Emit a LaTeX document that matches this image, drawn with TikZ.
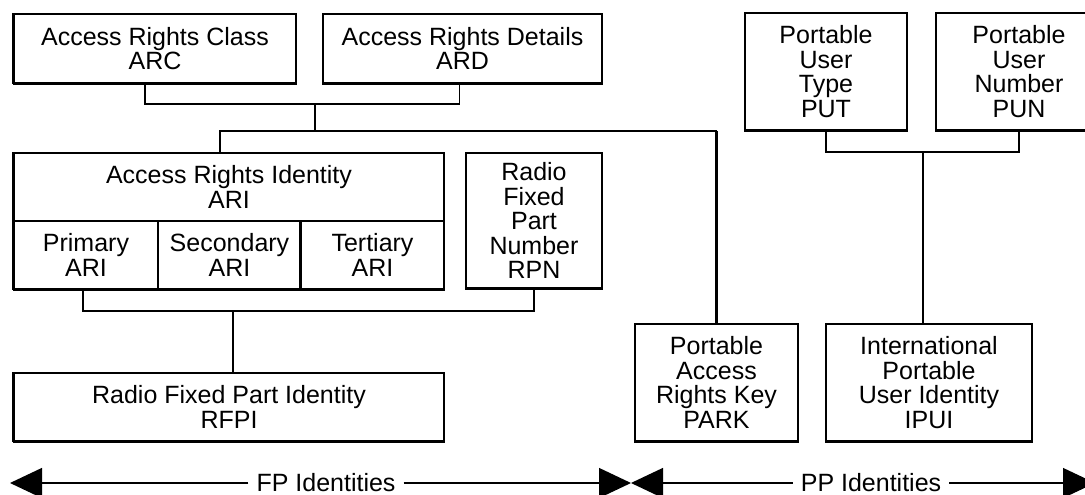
\documentclass[tikz,border=0pt]{standalone}
\usepackage{fontspec}
\setmainfont{Liberation Sans}
\usetikzlibrary{arrows.meta}
\begin{document}
\begin{tikzpicture}[x=1pt,y=-1pt,
  idbox/.style={draw, line width=1.6pt, inner sep=0pt, align=center,
    font=\fontsize{25}{24.5}\selectfont},
  conn/.style={line width=1.3pt},
  heavyconn/.style={line width=2.6pt},
  spanarrow/.style={line width=1.3pt, -{Triangle[length=32pt,width=30pt]}},
  spanlabel/.style={inner xsep=8pt, inner ysep=2pt, font=\fontsize{25}{24.5}\selectfont}
]
\useasboundingbox (0,0) rectangle (1085,495);
\clip (0,0) rectangle (1085,495);

% boxes
\node[idbox, minimum width=282pt, minimum height=69pt] (arc) at (155,48.5) {Access Rights Class\\ARC};
\node[idbox, minimum width=279pt, minimum height=69pt] (ard) at (462.5,48.5) {Access Rights Details\\ARD};
\node[idbox, minimum width=430pt, minimum height=68pt] (ari) at (229,187) {Access Rights Identity\\ARI};
\node[idbox, minimum width=144pt, minimum height=68pt] (pri) at (86,255) {Primary\\ARI};
\node[idbox, minimum width=143pt, minimum height=68pt] (sec) at (229.5,255) {Secondary\\ARI};
\node[idbox, minimum width=143pt, minimum height=68pt] (ter) at (372.5,255) {Tertiary\\ARI};
\node[idbox, minimum width=136pt, minimum height=135pt] (rpn) at (534,220.5) {Radio\\Fixed\\Part\\Number\\RPN};
\node[idbox, minimum width=430pt, minimum height=68pt] (rfpi) at (229,407) {Radio Fixed Part Identity\\RFPI};
\node[idbox, minimum width=162pt, minimum height=117pt] (put) at (826,71.5) {Portable\\User\\Type\\PUT};
\node[idbox, minimum width=166pt, minimum height=117pt] (pun) at (1019,71.5) {Portable\\User\\Number\\PUN};
\node[idbox, minimum width=163pt, minimum height=117pt] (park) at (716.5,382.5) {Portable\\Access\\Rights Key\\PARK};
\node[idbox, minimum width=206pt, minimum height=117pt] (ipui) at (929,382.5) {International\\Portable\\User Identity\\IPUI};

% heavier bottom edges
\foreach \n in {arc,ard,pri,sec,ter,rpn,rfpi,put,pun,park,ipui}
  \draw[line width=2.6pt] (\n.south west) -- (\n.south east);
\foreach \n in {arc,pri,rfpi}
  \draw[line width=2.6pt] (\n.south west) -- (\n.north west);
\draw[line width=2.6pt] (ari.north west) -- (ari.south west);
\draw[line width=2.6pt] (ter.north west) -- (ter.south west);

% connector junctions
\coordinate (j1) at (315,104);
\coordinate (j2) at (315,131);
\coordinate (j4) at (233,311);
\coordinate (j5) at (923,152);

% ARC / ARD -> ARI, PARK
\draw[conn] ([xshift=-10pt]arc.south) |- (j1) -| ([xshift=-3pt]ard.south);
\draw[conn] (j1) -- (j2);
\draw[conn] ([xshift=-9pt]ari.north) |- (j2) -- (j2 -| park.north);
\draw[heavyconn] (j2 -| park.north) -- (park.north);

% ARI / RPN -> RFPI
\draw[heavyconn] ([xshift=-3pt]pri.south) |- (j4) -| (rpn.south);
\draw[conn] (j4) -- (j4 |- rfpi.north);

% PUT / PUN -> IPUI
\draw[conn] (put.south) |- (j5) -| (pun.south);
\draw[conn] (j5) -- (j5 |- ipui.north);

% bottom spans
\coordinate (lt) at (10,483);
\coordinate (mt) at (631,483);
\coordinate (rt) at (1095,483);
\node[spanlabel] (fpl) at (326,483) {FP Identities};
\node[spanlabel] (ppl) at (871,483) {PP Identities};
\draw[spanarrow] (fpl) -- (lt);
\draw[spanarrow] (fpl) -- (mt);
\draw[spanarrow] (ppl) -- (mt);
\draw[spanarrow] (ppl) -- (rt);
\end{tikzpicture}
\end{document}
